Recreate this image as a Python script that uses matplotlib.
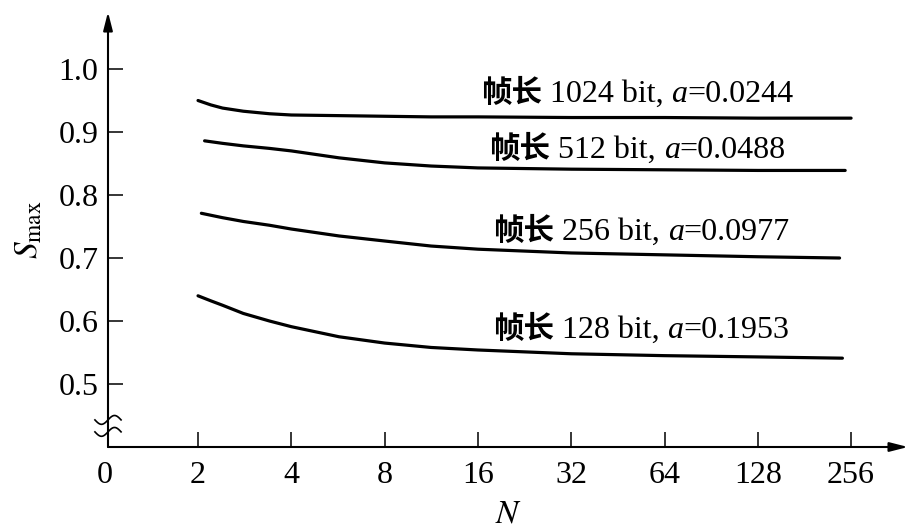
import numpy as np
import matplotlib
matplotlib.use("Agg")
import matplotlib.pyplot as plt

plt.rcParams['mathtext.fontset'] = 'stix'

# ---- data ----
x_tick_values = [0, 2, 4, 8, 16, 32, 64, 128, 256]
x_tick_labels = ['0', '2', '4', '8', '16', '32', '64', '128', '256']
y_ticks = [0.5, 0.6, 0.7, 0.8, 0.9, 1.0]
y_tick_labels = ['0.5', '0.6', '0.7', '0.8', '0.9', '1.0']

n_1024 = [2.0, 2.2, 2.4, 2.8, 3.4, 4, 5.7, 8, 11.3, 16, 32, 64, 128, 256]
s_1024 = [0.950, 0.943, 0.938, 0.933, 0.929, 0.927, 0.926, 0.925, 0.924, 0.924, 0.923, 0.923, 0.922, 0.922]

n_512 = [2.1, 2.4, 2.8, 3.4, 4, 5.7, 8, 11.3, 16, 32, 64, 128, 245]
s_512 = [0.886, 0.882, 0.878, 0.874, 0.870, 0.859, 0.851, 0.846, 0.843, 0.841, 0.840, 0.839, 0.839]

n_256 = [2.05, 2.4, 2.8, 3.4, 4, 5.7, 8, 11.3, 16, 32, 64, 128, 235]
s_256 = [0.771, 0.764, 0.758, 0.752, 0.746, 0.735, 0.727, 0.719, 0.714, 0.708, 0.705, 0.702, 0.700]

n_128 = [2.0, 2.2, 2.4, 2.8, 3.4, 4, 5.7, 8, 11.3, 16, 32, 64, 128, 240]
s_128 = [0.640, 0.632, 0.625, 0.612, 0.600, 0.591, 0.575, 0.565, 0.558, 0.554, 0.548, 0.545, 0.543, 0.541]

series = [
    (n_1024, s_1024, '1024', '0.0244'),
    (n_512, s_512, '512', '0.0488'),
    (n_256, s_256, '256', '0.0977'),
    (n_128, s_128, '128', '0.1953'),
]
# label anchor (N position, baseline value)
label_pos = [(4.03, 0.948), (4.12, 0.859), (4.16, 0.729), (4.16, 0.573)]


def pos(n):
    n = np.asarray(n, dtype=float)
    return np.where(n > 0, np.log2(np.maximum(n, 1e-9)), 0.0)


W, H = 924, 531
fig = plt.figure(figsize=(W / 100, H / 100), dpi=100)
ax = fig.add_axes([108 / W, (H - 447) / H, (908 - 108) / W, (447 - 12) / H])

ax.set_xlim(0.035, 8.61)
ax.set_ylim(0.4, 1.0905)

for s in ax.spines.values():
    s.set_visible(False)

lw_axis = 1.5
ax.annotate('', xy=(1, 0), xytext=(0, 0), xycoords='axes fraction',
            arrowprops=dict(arrowstyle='-|>,head_length=1.1,head_width=0.28',
                            color='black', lw=lw_axis, shrinkA=0, shrinkB=0))
ax.annotate('', xy=(0, 1), xytext=(0, 0), xycoords='axes fraction',
            arrowprops=dict(arrowstyle='-|>,head_length=1.1,head_width=0.28',
                            color='black', lw=lw_axis, shrinkA=0, shrinkB=0))

tick_font = dict(family='Liberation Serif', size=23)
ax.set_xticks(pos(x_tick_values[1:]))
ax.set_xticklabels(x_tick_labels[1:], fontdict=tick_font)
# the "0" label sits just left of the y axis (outside the view limits)
ax.annotate(x_tick_labels[0], xy=(float(pos([x_tick_values[0]])[0]), 0),
            xycoords=ax.get_xaxis_transform(), xytext=(0, -10),
            textcoords='offset points', ha='center', va='top',
            annotation_clip=False, **tick_font)
ax.set_yticks(y_ticks)
ax.set_yticklabels(y_tick_labels, fontdict=tick_font)
ax.tick_params(axis='both', direction='in', length=11, width=1.1, color='black')
ax.tick_params(axis='x', pad=10)
ax.tick_params(axis='y', pad=7)

for (n, s, fl, a), (lx, ly) in zip(series, label_pos):
    ax.plot(pos(n), s, color='black', lw=2.3, solid_capstyle='round',
            solid_joinstyle='round')
    t1 = ax.text(lx, ly, '帧长', family=['Noto Sans CJK SC'], fontweight='bold',
                 fontsize=22, ha='left', va='baseline')
    t2 = ax.annotate(f' {fl} bit, ', xy=(1, 0), xycoords=t1, ha='left', va='bottom',
                     family='Liberation Serif', fontsize=23)
    t3 = ax.annotate('a', xy=(1, 0), xycoords=t2, ha='left', va='bottom',
                     family='Liberation Serif', fontstyle='italic', fontsize=23)
    t4 = ax.annotate(f'={a}', xy=(1, 0), xycoords=t3, ha='left', va='bottom',
                     family='Liberation Serif', fontsize=23)

# axis break mark on y axis
tt = np.linspace(-1, 1, 60)
x0 = 0.035
for yb in (0.443, 0.424):
    ax.plot(x0 + tt * 0.14, yb + 0.007 * np.sin(tt * np.pi), color='black', lw=1.2,
            clip_on=False)

ax.set_xlabel(r'$N$', fontsize=24, labelpad=5)
ax.set_ylabel(r'$S_{\mathrm{max}}$', fontsize=24, labelpad=10)

fig.savefig('out.png', dpi=100)
